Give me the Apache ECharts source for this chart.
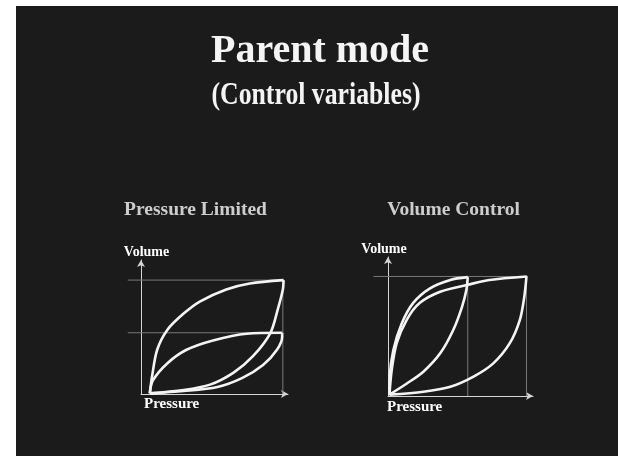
<!DOCTYPE html>
<html>
<head>
<meta charset="utf-8">
<title>Parent mode</title>
<script src="https://cdn.jsdelivr.net/npm/echarts@6/dist/echarts.min.js"></script>
<style>
  html, body { margin: 0; padding: 0; background: #ffffff; }
  #chart { width: 618px; height: 456px; }
</style>
</head>
<body>
<div id="chart"></div>
<script>
// texts
const titleText = 'Parent mode';
const subtitleText = '(Control variables)';
const panelTitles = ['Pressure Limited', 'Volume Control'];
const axisNames = { x: 'Pressure', y: 'Volume' };

// Pressure Limited panel: [pressure, volume]
const plBigInspire = [[6, 0.5], [7.5, 13], [11, 33], [18, 48], [29, 60], [40, 69], [58, 78], [74, 82.5], [97, 85]];
const plBigExpire = [[6, 0.5], [29, 3], [47, 7], [63, 16], [76, 28], [88, 45.5], [93, 63], [96.5, 78], [97, 85]];
const plSmallInspire = [[6, 0.5], [8, 10], [18, 23], [31, 33], [49, 40], [72, 45], [96, 45.7]];
const plSmallExpire = [[6, 0.5], [29, 2.2], [52, 5.2], [69, 12], [83, 21.6], [92.5, 33], [96, 42.5], [96, 45.7]];

// Volume Control panel
const vcNarrowInspire = [[1, 1], [1.2, 14], [3.7, 33], [9.4, 52], [17.4, 67], [29, 77.5], [43, 83.5], [55, 85.5]];
const vcNarrowExpire = [[1, 1], [13, 9], [24.4, 17.5], [36, 30.7], [45, 47.5], [51, 64], [54, 76], [55, 85.5]];
const vcWideInspire = [[1, 1], [2.6, 19], [6, 38], [13, 55], [22, 67], [36, 75], [55, 80], [70, 83.5], [95.7, 86]];
const vcWideExpire = [[1, 1], [24.4, 3.1], [43, 6.7], [59, 14], [72.6, 23.5], [84, 38], [91, 55], [94, 71.4], [95.5, 86]];

// reference lines: horizontal [fromX, toX, y], vertical [x, fromY, toY]
const plGuidesH = [[-9, 97, 85], [-9, 96, 45.7]];
const plGuidesV = [[96.5, 0, 85]];
const vcGuidesH = [[-10, 96.5, 86]];
const vcGuidesV = [[55, 0, 86], [95.5, 0, 86]];

const FONT = '"Liberation Serif", "DejaVu Serif", serif';
const COLORS = {
  BG: '#1b1b1b',
  CURVE: '#f4f4f4',
  GUIDE: '#7a7a7a',
  AXIS: '#d6d6d6',
  TITLE: '#f4f4f4',
  PANEL: '#cdcdcd'
};

const curve = (data, idx) => ({
  type: 'line',
  xAxisIndex: idx,
  yAxisIndex: idx,
  data: data,
  smooth: 0.3,
  showSymbol: false,
  clip: false,
  silent: true,
  lineStyle: { color: COLORS.CURVE, width: 2.6 },
  z: 3
});

// thin gray guide lines, drawn through the axes' coord() so they may run past the y axis
const guides = (data, idx, vertical) => ({
  type: 'custom',
  xAxisIndex: idx,
  yAxisIndex: idx,
  data: data,
  clip: false,
  silent: true,
  z: 2,
  renderItem: (params, api) => {
    const a = vertical ? [api.value(0), api.value(1)] : [api.value(0), api.value(2)];
    const b = vertical ? [api.value(0), api.value(2)] : [api.value(1), api.value(2)];
    const p1 = api.coord(a);
    const p2 = api.coord(b);
    return {
      type: 'line',
      shape: { x1: p1[0], y1: p1[1], x2: p2[0], y2: p2[1] },
      style: { stroke: COLORS.GUIDE, lineWidth: 1 }
    };
  }
});

const makeXAxis = (idx, gap, padTop) => ({
  type: 'value',
  gridIndex: idx,
  min: 0,
  max: 100,
  name: axisNames.x,
  nameLocation: 'start',
  nameGap: gap,
  nameTextStyle: {
    color: '#ffffff', fontFamily: FONT, fontWeight: 'bold', fontSize: 15,
    align: 'left', verticalAlign: 'top', padding: [padTop, 0, 0, 0]
  },
  axisLine: {
    onZero: false,
    symbol: ['none', 'arrow'],
    symbolSize: [6, 7],
    lineStyle: { color: COLORS.AXIS, width: 1 }
  },
  axisTick: { show: false },
  axisLabel: { show: false },
  splitLine: { show: false }
});

const makeYAxis = (idx, pad) => ({
  type: 'value',
  gridIndex: idx,
  min: 0,
  max: 100,
  name: axisNames.y,
  nameLocation: 'end',
  nameGap: 1,
  nameTextStyle: {
    color: '#ffffff', fontFamily: FONT, fontWeight: 'bold', fontSize: 14,
    padding: pad
  },
  axisLine: {
    onZero: false,
    symbol: ['none', 'arrow'],
    symbolSize: [6, 7],
    lineStyle: { color: COLORS.AXIS, width: 1 }
  },
  axisTick: { show: false },
  axisLabel: { show: false },
  splitLine: { show: false }
});

const textEl = (text, x, y, size, color, scaleX) => ({
  type: 'text',
  x: x,
  y: y,
  scaleX: scaleX || 1,
  silent: true,
  style: {
    text: text,
    fill: color,
    font: 'bold ' + size + 'px ' + FONT,
    align: 'center',
    verticalAlign: 'middle',
    textAlign: 'center',
    textVerticalAlign: 'middle',
    shadowColor: 'rgba(0,0,0,0.7)',
    shadowBlur: 2,
    shadowOffsetX: 1,
    shadowOffsetY: 1
  }
});

const option = {
  backgroundColor: '#ffffff',
  animation: false,
  graphic: [
    { type: 'rect', z: -10, silent: true, shape: { x: 16, y: 6, width: 602, height: 450 }, style: { fill: COLORS.BG } },
    textEl(titleText, 320, 51.5, 40, COLORS.TITLE),
    textEl(subtitleText, 316, 96.2, 31, COLORS.TITLE, 0.83),
    textEl(panelTitles[0], 195.5, 209.5, 19.5, COLORS.PANEL),
    textEl(panelTitles[1], 453.5, 209.5, 19.5, COLORS.PANEL)
  ],
  grid: [
    { left: 141, top: 260, width: 147, height: 134 },
    { left: 388, top: 257, width: 145, height: 139 }
  ],
  xAxis: [makeXAxis(0, -3, 3), makeXAxis(1, 1, 4)],
  yAxis: [makeYAxis(0, [0, 0, 0, 11]), makeYAxis(1, [0, 8, 0, 0])],
  series: [
    guides(plGuidesH, 0, false),
    guides(plGuidesV, 0, true),
    guides(vcGuidesH, 1, false),
    guides(vcGuidesV, 1, true),
    curve(plBigInspire, 0),
    curve(plBigExpire, 0),
    curve(plSmallInspire, 0),
    curve(plSmallExpire, 0),
    curve(vcNarrowInspire, 1),
    curve(vcNarrowExpire, 1),
    curve(vcWideInspire, 1),
    curve(vcWideExpire, 1)
  ]
};

const myChart = echarts.init(document.getElementById('chart'));
myChart.setOption(option);
</script>
</body>
</html>
